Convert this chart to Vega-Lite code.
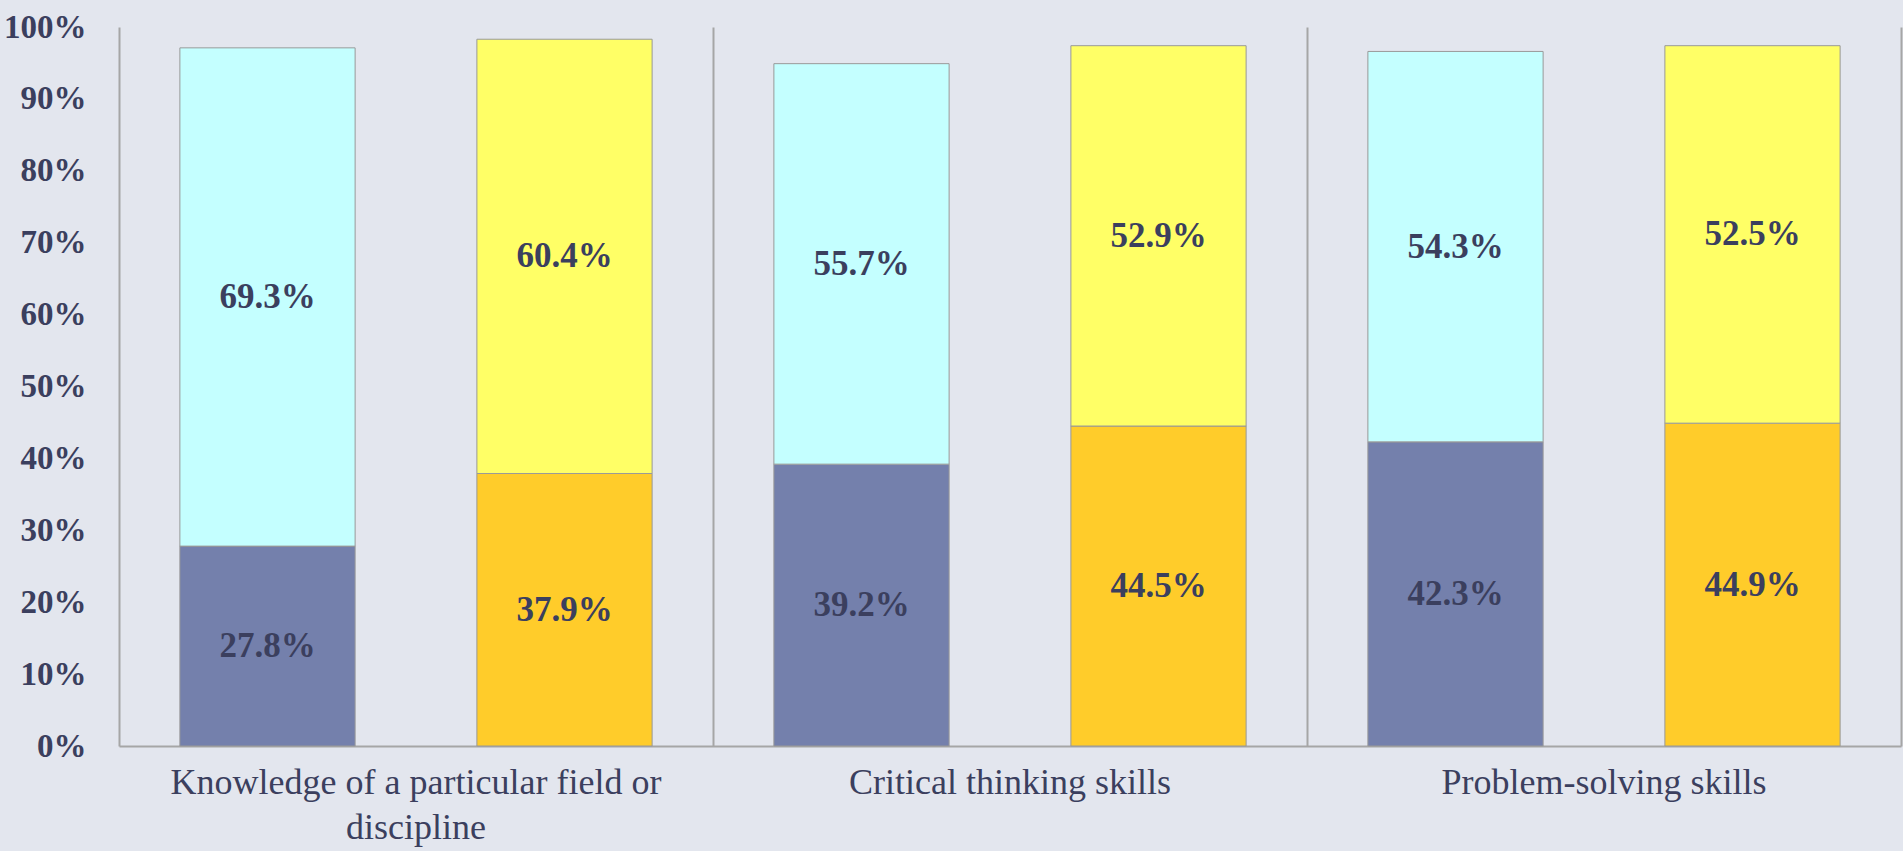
{
  "$schema": "https://vega.github.io/schema/vega-lite/v6.json",
  "width": 1782,
  "height": 719,
  "autosize": {"type": "none"},
  "padding": {"left": 119, "top": 27, "right": 2, "bottom": 105},
  "background": "#E3E6EE",
  "config": {"view": {"stroke": null}, "font": "Liberation Serif"},
  "data": {
    "values": [
      {"category": "Knowledge of a particular field or discipline", "cat": 1, "group": "A", "segment": "A-bottom", "order": 1, "value": 0.278},
      {"category": "Knowledge of a particular field or discipline", "cat": 1, "group": "A", "segment": "A-top", "order": 2, "value": 0.693},
      {"category": "Knowledge of a particular field or discipline", "cat": 1, "group": "B", "segment": "B-bottom", "order": 1, "value": 0.379},
      {"category": "Knowledge of a particular field or discipline", "cat": 1, "group": "B", "segment": "B-top", "order": 2, "value": 0.604},
      {"category": "Critical thinking skills", "cat": 2, "group": "A", "segment": "A-bottom", "order": 1, "value": 0.392},
      {"category": "Critical thinking skills", "cat": 2, "group": "A", "segment": "A-top", "order": 2, "value": 0.557},
      {"category": "Critical thinking skills", "cat": 2, "group": "B", "segment": "B-bottom", "order": 1, "value": 0.445},
      {"category": "Critical thinking skills", "cat": 2, "group": "B", "segment": "B-top", "order": 2, "value": 0.529},
      {"category": "Problem-solving skills", "cat": 3, "group": "A", "segment": "A-bottom", "order": 1, "value": 0.423},
      {"category": "Problem-solving skills", "cat": 3, "group": "A", "segment": "A-top", "order": 2, "value": 0.543},
      {"category": "Problem-solving skills", "cat": 3, "group": "B", "segment": "B-bottom", "order": 1, "value": 0.449},
      {"category": "Problem-solving skills", "cat": 3, "group": "B", "segment": "B-top", "order": 2, "value": 0.525}
    ]
  },
  "transform": [
    {"stack": "value", "groupby": ["category", "group"], "sort": [{"field": "order", "order": "ascending"}], "as": ["v0", "v1"]},
    {"calculate": "(datum.v0 + datum.v1) / 2", "as": "vmid"}
  ],
  "encoding": {
    "x": {
      "field": "category",
      "type": "nominal",
      "sort": {"field": "cat", "order": "ascending"},
      "title": null,
      "scale": {"paddingInner": 0, "paddingOuter": 0},
      "axis": {
        "labelAngle": 0,
        "labelFont": "Liberation Serif",
        "labelFontSize": 36,
        "labelColor": "#3B3F5E",
        "labelPadding": 19,
        "labelLineHeight": 45,
        "labelLimit": 0,
        "labelExpr": "datum.label == 'Knowledge of a particular field or discipline' ? ['Knowledge of a particular field or', 'discipline'] : datum.label",
        "ticks": false,
        "domain": true,
        "domainColor": "#A6A6A6",
        "domainWidth": 2,
        "grid": true,
        "gridColor": "#A6A6A6",
        "gridWidth": 2,
        "bandPosition": 1
      }
    },
    "xOffset": {
      "field": "group",
      "type": "nominal",
      "scale": {"paddingInner": 0.41, "paddingOuter": 0.205}
    }
  },
  "layer": [
    {
      "mark": {"type": "bar", "stroke": "#999999", "strokeWidth": 1},
      "encoding": {
        "y": {
          "field": "v1",
          "type": "quantitative",
          "scale": {"domain": [0, 1], "nice": false},
          "title": null,
          "axis": {
            "values": [0, 0.1, 0.2, 0.3, 0.4, 0.5, 0.6, 0.7, 0.8, 0.9, 1],
            "format": ".0%",
            "grid": false,
            "ticks": false,
            "tickSize": 0,
            "labelPadding": 33,
            "labelFont": "Liberation Serif",
            "labelFontSize": 33,
            "labelFontWeight": "bold",
            "labelColor": "#3B3F5E",
            "domain": true,
            "domainColor": "#A6A6A6",
            "domainWidth": 2
          }
        },
        "y2": {"field": "v0"},
        "color": {
          "field": "segment",
          "type": "nominal",
          "legend": null,
          "scale": {
            "domain": ["A-bottom", "A-top", "B-bottom", "B-top"],
            "range": ["#7480AC", "#C4FFFF", "#FFCC2A", "#FFFF66"]
          }
        }
      }
    },
    {
      "mark": {"type": "text", "font": "Liberation Serif", "fontSize": 35, "fontWeight": "bold", "color": "#3B3F5E", "baseline": "middle", "align": "center"},
      "encoding": {
        "y": {"field": "vmid", "type": "quantitative"},
        "text": {"field": "value", "type": "quantitative", "format": ".1%"}
      }
    }
  ]
}
